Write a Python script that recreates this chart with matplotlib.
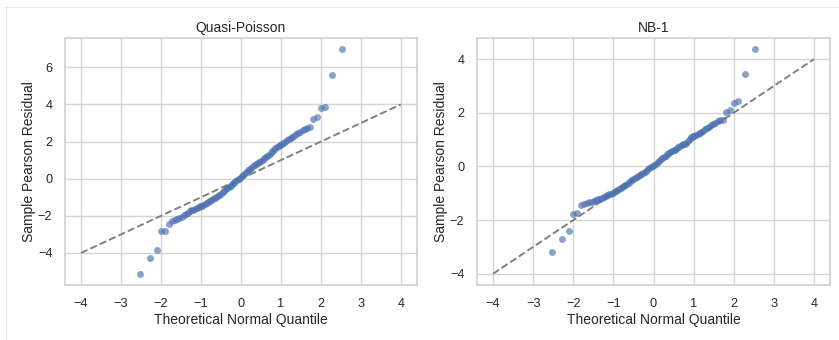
import matplotlib
matplotlib.use("Agg")
import matplotlib.pyplot as plt
import seaborn as sns
from matplotlib.lines import Line2D

# Theoretical normal quantiles (shared by both panels)
theoretical_quantile = [
    -2.52, -2.27, -2.11, -2.00, -1.90, -1.81, -1.73, -1.66, -1.60, -1.54,
    -1.48, -1.43, -1.38, -1.33, -1.28, -1.24, -1.19, -1.15, -1.10, -1.06,
    -1.02, -0.98, -0.94, -0.90, -0.86, -0.82, -0.78, -0.74, -0.70, -0.66,
    -0.62, -0.58, -0.54, -0.50, -0.46, -0.42, -0.38, -0.34, -0.30, -0.26,
    -0.22, -0.18, -0.14, -0.10, -0.06, -0.02, 0.02, 0.06, 0.10, 0.14,
    0.18, 0.22, 0.26, 0.30, 0.34, 0.38, 0.42, 0.46, 0.50, 0.54,
    0.58, 0.62, 0.66, 0.70, 0.74, 0.78, 0.82, 0.86, 0.90, 0.94,
    0.98, 1.02, 1.06, 1.10, 1.15, 1.19, 1.24, 1.28, 1.33, 1.38,
    1.43, 1.48, 1.54, 1.60, 1.66, 1.73, 1.81, 1.90, 2.00, 2.11,
    2.27, 2.52,
]

quasi_poisson_resid = [
    -5.12, -4.29, -3.86, -2.83, -2.83, -2.45, -2.27, -2.22, -2.18, -2.14,
    -2.05, -1.97, -1.90, -1.83, -1.76, -1.71, -1.66, -1.61, -1.57, -1.53,
    -1.49, -1.45, -1.41, -1.36, -1.31, -1.27, -1.22, -1.16, -1.10, -1.04,
    -0.98, -0.93, -0.87, -0.80, -0.72, -0.64, -0.56, -0.50, -0.45, -0.38,
    -0.30, -0.22, -0.15, -0.08, -0.02, 0.04, 0.12, 0.20, 0.28, 0.38,
    0.46, 0.54, 0.60, 0.66, 0.72, 0.78, 0.85, 0.91, 0.97, 1.03,
    1.09, 1.15, 1.22, 1.30, 1.38, 1.47, 1.56, 1.64, 1.70, 1.76,
    1.82, 1.88, 1.94, 2.00, 2.06, 2.11, 2.17, 2.24, 2.32, 2.40,
    2.47, 2.53, 2.60, 2.66, 2.72, 2.80, 3.24, 3.32, 3.80, 3.86,
    5.57, 6.97,
]

nb1_resid = [
    -3.19, -2.69, -2.41, -1.78, -1.75, -1.44, -1.40, -1.37, -1.34, -1.31,
    -1.28, -1.25, -1.22, -1.20, -1.17, -1.14, -1.11, -1.08, -1.04, -1.01,
    -0.98, -0.95, -0.91, -0.88, -0.84, -0.80, -0.76, -0.72, -0.68, -0.64,
    -0.60, -0.56, -0.52, -0.48, -0.44, -0.40, -0.36, -0.32, -0.28, -0.24,
    -0.20, -0.16, -0.11, -0.07, -0.02, 0.03, 0.07, 0.11, 0.16, 0.21,
    0.26, 0.31, 0.36, 0.40, 0.45, 0.49, 0.53, 0.57, 0.60, 0.63,
    0.67, 0.71, 0.75, 0.79, 0.82, 0.85, 0.89, 0.95, 1.02, 1.08,
    1.12, 1.15, 1.18, 1.22, 1.26, 1.30, 1.34, 1.38, 1.43, 1.48,
    1.53, 1.58, 1.63, 1.68, 1.72, 1.75, 2.04, 2.09, 2.37, 2.44,
    3.43, 4.37,
]

ref_line = [-4, 4]
panel_titles = ["Quasi-Poisson", "NB-1"]
xticks = [-4, -3, -2, -1, 0, 1, 2, 3, 4]
left_yticks = [-4, -2, 0, 2, 4, 6]
right_yticks = [-4, -2, 0, 2, 4]

sns.set_theme(style="whitegrid")
plt.rcParams["font.family"] = ["Liberation Sans", "DejaVu Sans"]

fig = plt.figure(figsize=(8.39, 3.40), dpi=100)
W, H = 839, 340
ax1 = fig.add_axes([65 / W, (H - 285) / H, 352 / W, 247 / H])
ax2 = fig.add_axes([477 / W, (H - 285) / H, 353 / W, 247 / H])

for ax, resid, title, yt in [
    (ax1, quasi_poisson_resid, panel_titles[0], left_yticks),
    (ax2, nb1_resid, panel_titles[1], right_yticks),
]:
    ax.scatter(theoretical_quantile, resid, s=25, color="#4c72b0",
               alpha=0.65, linewidths=0, zorder=3)
    ax.plot(ref_line, ref_line, linestyle="--", color="gray", lw=1.4,
            zorder=2)
    ax.set_title(title, fontsize=10, pad=4.5)
    ax.set_xlabel("Theoretical Normal Quantile", fontsize=10, labelpad=2)
    ax.set_ylabel("Sample Pearson Residual", fontsize=10, labelpad=1)
    ax.set_xticks(xticks)
    ax.set_yticks(yt)
    ax.tick_params(axis="x", labelsize=9.2, pad=3.5)
    ax.tick_params(axis="y", labelsize=9.2, pad=3)
    for sp in ax.spines.values():
        sp.set_color("#cccccc")
        sp.set_linewidth(1.1)
    ax.grid(True, color="#d5d5d5", linewidth=1.0)

# faint frame lines of the original screenshot
fig.add_artist(Line2D([5 / W, 1], [(H - 6.5) / H, (H - 6.5) / H],
                      transform=fig.transFigure, color="#e8e8e8", lw=0.8))
fig.add_artist(Line2D([5.5 / W, 5.5 / W], [0, (H - 6.5) / H],
                      transform=fig.transFigure, color="#e8e8e8", lw=0.8))

fig.savefig("out.png", dpi=100)
